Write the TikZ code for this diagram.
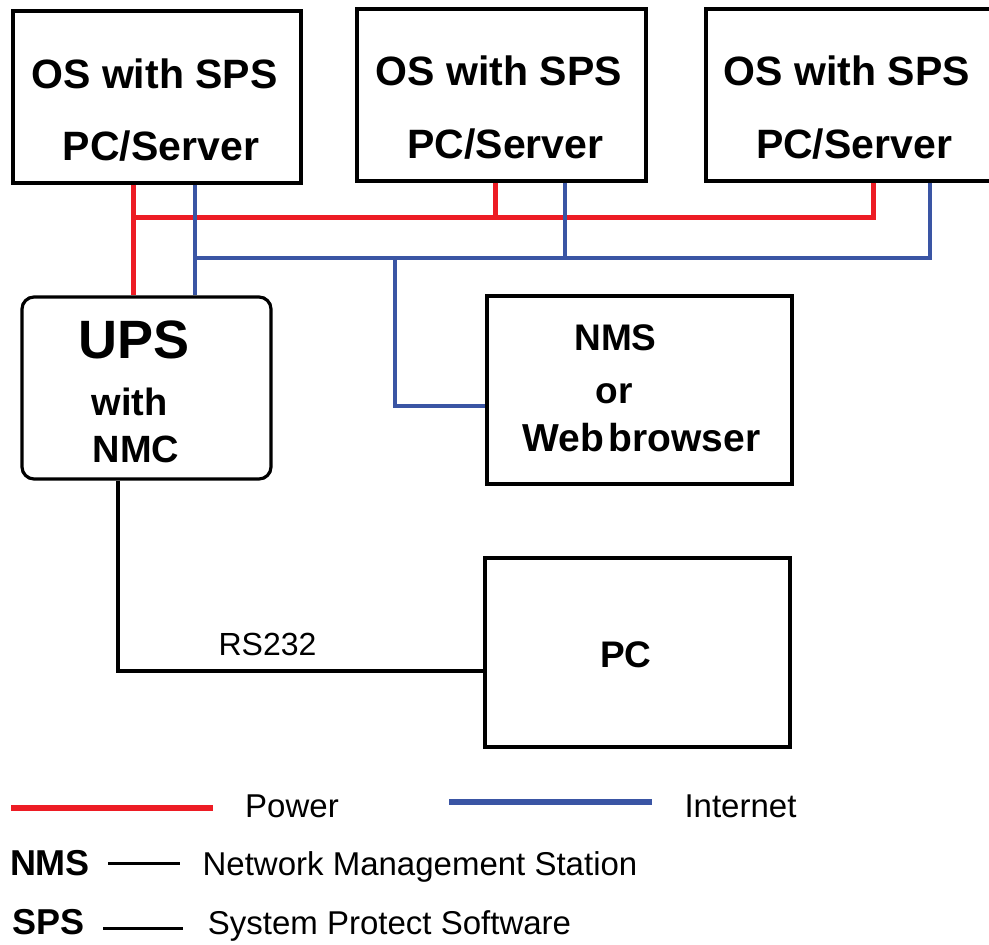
\documentclass[tikz,border=0pt]{standalone}
\usepackage{fontspec}
\setmainfont{Liberation Sans}
\newcommand\fsz[1]{\fontsize{#1pt}{#1pt}\selectfont}
\definecolor{pwr}{HTML}{ED1C24}
\definecolor{inet}{HTML}{3A55A4}
\begin{document}
\begin{tikzpicture}[x=1pt,y=1pt,
  box/.style={draw,line width=3.2pt,inner sep=0pt},
  bl/.style={anchor=base,inner sep=0pt},
  pw/.style={draw=pwr,line width=5pt},
  ib/.style={draw=inet,line width=4.5pt},
  blk/.style={draw=black,line width=4pt},
  dashline/.style={draw=black,line width=3pt}]
\clip (0,0) rectangle (989,-945);
% boxes
\node[box,minimum width=288pt,minimum height=172pt] (box1) at (157,-97) {};
\node[box,minimum width=289pt,minimum height=172pt] (box2) at (501.5,-95) {};
\node[box,minimum width=285pt,minimum height=172pt] (box3) at (848.5,-95) {};
\node[box,rounded corners=12pt,minimum width=249pt,minimum height=182pt] (ups) at (146.5,-388) {};
\node[box,minimum width=305pt,minimum height=188pt] (nms) at (639.5,-390) {};
\node[box,minimum width=305pt,minimum height=189pt] (pc) at (637.5,-652.5) {};
% box texts
\node[bl,font=\bfseries\fsz{41}] (t1a) at (154.5,-88) {OS with SPS};
\node[bl,font=\bfseries\fsz{41}] (t1b) at (161,-160) {PC/Server};
\node[bl,font=\bfseries\fsz{41}] (t2a) at (499,-85) {OS with SPS};
\node[bl,font=\bfseries\fsz{41}] (t2b) at (505.5,-158) {PC/Server};
\node[bl,font=\bfseries\fsz{41}] (t3a) at (847,-85) {OS with SPS};
\node[bl,font=\bfseries\fsz{41}] (t3b) at (854,-158) {PC/Server};
\node[bl,font=\bfseries\fsz{54}] (tu1) at (134.5,-358) {UPS};
\node[bl,font=\bfseries\fsz{38}] (tu2) at (129.5,-415) {with};
\node[bl,font=\bfseries\fsz{38}] (tu3) at (136,-462) {NMC};
\node[bl,font=\bfseries\fsz{37}] (tn1) at (615.5,-350) {NMS};
\node[bl,font=\bfseries\fsz{37}] (tn2) at (614,-403) {or};
\node[bl,font=\bfseries\fsz{39}] (tn3) at (641.5,-451) {Web\hspace{0.12em}browser};
\node[bl,font=\bfseries\fsz{37}] (tpc) at (626,-667) {PC};
% coordinates
\coordinate (rj1) at (133,-217);
\coordinate (xr2) at (495,0);
\coordinate (xr3) at (873,0);
\coordinate (bj1) at (195,-258);
\coordinate (xb2) at (565,0);
\coordinate (xb3) at (930,0);
\coordinate (bj2) at (395,-258);
\coordinate (bn) at (395,-406);
\coordinate (kc) at (118,-671);
% power
\draw[pw] (box3.south -| xr3) |- (rj1);
\draw[pw] (box2.south -| xr2) -- (xr2 |- rj1);
\draw[pw] (box1.south -| rj1) -- (ups.north -| rj1);
% internet
\draw[ib] (box3.south -| xb3) |- (bj1);
\draw[ib] (box2.south -| xb2) -- (xb2 |- bj1);
\draw[ib] (box1.south -| bj1) -- (ups.north -| bj1);
\draw[ib] (bj2) -- (bn) -- (bn -| nms.west);
% RS232
\draw[blk] (ups.south -| kc) -- (kc) -- (kc -| pc.west);
\node[bl,font=\fsz{32}] (rs) at (267.5,-655) {RS232};
% legend
\node[bl,font=\fsz{33}] (lp) at (292,-817) {Power};
\node[bl,font=\fsz{33}] (li) at (740.5,-817) {Internet};
\draw[pw,line width=5.5pt] (11,-808) -- (213,-808);
\draw[ib,line width=6pt] (449,-802) -- (652,-802);
\node[bl,font=\bfseries\fsz{36}] (lnms) at (50,-875) {NMS};
\node[bl,font=\fsz{33}] (lnmsd) at (420,-875) {Network Management Station};
\draw[dashline] (108,-863) -- (180,-863);
\node[bl,font=\bfseries\fsz{36}] (lsps) at (48.5,-934) {SPS};
\node[bl,font=\fsz{33}] (lspsd) at (389.5,-934) {System Protect Software};
\draw[dashline] (103,-928) -- (183,-928);
\end{tikzpicture}
\end{document}
